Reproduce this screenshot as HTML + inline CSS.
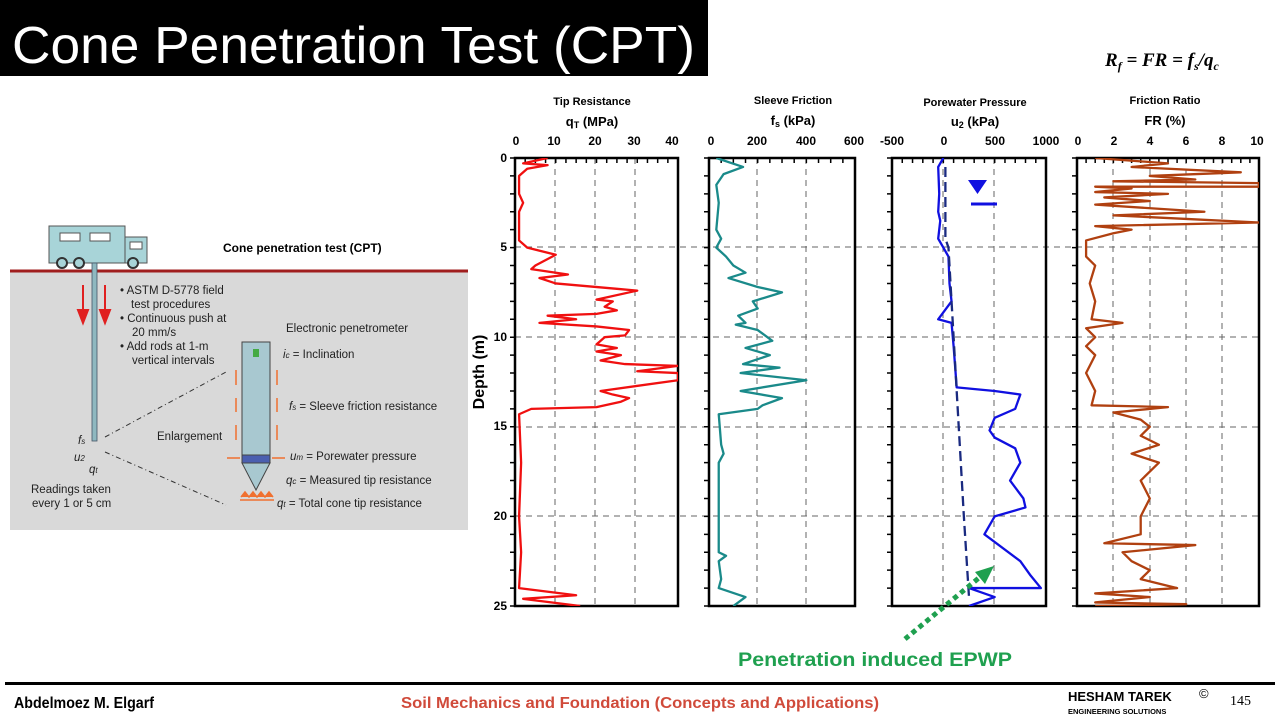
<!DOCTYPE html>
<html><head><meta charset="utf-8"><style>
body{margin:0;width:1280px;height:720px;background:#fff;overflow:hidden;font-family:"Liberation Sans",sans-serif}
svg{position:absolute;left:0;top:0}
.b{font-weight:bold}
.d{fill:none;stroke:#666;stroke-width:1;stroke-dasharray:6 5}
.ln{fill:none;stroke-width:2.3;vector-effect:non-scaling-stroke;stroke-linejoin:round}
.tk{stroke:#000;stroke-width:5}
</style></head><body>
<svg width="1280" height="720" viewBox="0 0 1280 720" font-family="Liberation Sans, sans-serif">
<rect x="0" y="0" width="708" height="76" fill="#000"/>
<text x="12" y="63" font-size="52" fill="#fff" textLength="683" lengthAdjust="spacingAndGlyphs">Cone Penetration Test (CPT)</text>
<text x="1105" y="66" font-family="Liberation Serif, serif" font-style="italic" font-weight="bold" font-size="19">R<tspan font-size="12" dy="4">f</tspan><tspan dy="-4"> = FR = f</tspan><tspan font-size="12" dy="4">s</tspan><tspan dy="-4">/q</tspan><tspan font-size="12" dy="4">c</tspan></text>

<!-- left diagram -->
<rect x="10" y="271" width="458" height="259" fill="#d9d9d9"/>
<line x1="10" y1="271" x2="468" y2="271" stroke="#a01e1e" stroke-width="3"/>
<rect x="49" y="226" width="76" height="37" fill="#a8d4d8" stroke="#555"/>
<rect x="125" y="237" width="22" height="26" fill="#a8d4d8" stroke="#555"/>
<rect x="60" y="233" width="20" height="8" fill="#fff" stroke="#555"/>
<rect x="90" y="233" width="20" height="8" fill="#fff" stroke="#555"/>
<rect x="130" y="242" width="12" height="7" fill="#fff" stroke="#555"/>
<circle cx="62" cy="263" r="5" fill="#a8d4d8" stroke="#333" stroke-width="2"/>
<circle cx="79" cy="263" r="5" fill="#a8d4d8" stroke="#333" stroke-width="2"/>
<circle cx="133" cy="263" r="5" fill="#a8d4d8" stroke="#333" stroke-width="2"/>
<rect x="92" y="263" width="5" height="178" fill="#8fb8c0" stroke="#456" stroke-width="0.8"/>
<path d="M83 285V320M78 310L83 323L88 310Z M105 285V320M100 310L105 323L110 310Z" stroke="#e02020" fill="#e02020" stroke-width="2"/>
<text x="223" y="252" font-size="12" class="b">Cone penetration test (CPT)</text>
<g font-size="11.5" fill="#222">
<text x="120" y="294">•  ASTM D-5778 field</text><text x="131" y="308">test procedures</text>
<text x="120" y="322">•  Continuous push at</text><text x="132" y="336">20 mm/s</text>
<text x="120" y="350">•  Add rods at 1-m</text><text x="132" y="364">vertical intervals</text>
<text x="286" y="332">Electronic penetrometer</text>
<text x="283" y="358"><tspan font-style="italic">i</tspan><tspan font-size="8" font-style="italic">c</tspan> = Inclination</text>
<text x="289" y="410"><tspan font-style="italic">f</tspan><tspan font-size="8" font-style="italic">s</tspan> = Sleeve friction resistance</text>
<text x="157" y="440">Enlargement</text>
<text x="290" y="460"><tspan font-style="italic">u</tspan><tspan font-size="8" font-style="italic">m</tspan> = Porewater pressure</text>
<text x="286" y="484"><tspan font-style="italic">q</tspan><tspan font-size="8" font-style="italic">c</tspan> = Measured tip resistance</text>
<text x="277" y="507"><tspan font-style="italic">q</tspan><tspan font-size="8" font-style="italic">t</tspan> = Total cone tip resistance</text>
<text x="78" y="444" font-style="italic">f<tspan font-size="8">s</tspan></text>
<text x="74" y="461" font-style="italic">u<tspan font-size="8">2</tspan></text>
<text x="89" y="473" font-style="italic">q<tspan font-size="8">t</tspan></text>
<text x="31" y="493">Readings taken</text><text x="32" y="507">every 1 or 5 cm</text>
</g>
<path d="M105 437L226 372M105 452L226 505" stroke="#333" stroke-dasharray="5 3 1 3" fill="none"/>
<rect x="242" y="342" width="28" height="113" fill="#a8c8d0" stroke="#444"/>
<rect x="242" y="455" width="28" height="8" fill="#4a5fb0" stroke="#444"/>
<path d="M242 463H270L256 490Z" fill="#a8c8d0" stroke="#444"/>
<rect x="253" y="349" width="6" height="8" fill="#4a4"/>
<g stroke="#f07030" stroke-width="1.5" fill="#f07030">
<path d="M236 385V370M277 385V370M236 412V398M277 412V398M236 440V425M277 440V425M240 458H227M272 458H285"/>
<path d="M241 497L245 492L249 497L253 492L257 497L261 492L265 497L269 492L273 497M240 500H274"/>
</g>

<!-- chart labels -->
<g font-weight="bold" text-anchor="middle">
<text x="592" y="105" font-size="11">Tip Resistance</text>
<text x="592" y="126" font-size="13">q<tspan font-size="9" dy="2">T</tspan><tspan dy="-2"> (MPa)</tspan></text>
<text x="793" y="104" font-size="11">Sleeve Friction</text>
<text x="793" y="125" font-size="13">f<tspan font-size="9" dy="2">s</tspan><tspan dy="-2"> (kPa)</tspan></text>
<text x="975" y="106" font-size="11">Porewater Pressure</text>
<text x="975" y="126" font-size="13">u<tspan font-size="9" dy="2">2</tspan><tspan dy="-2">  (kPa)</tspan></text>
<text x="1165" y="104" font-size="11">Friction Ratio</text>
<text x="1165" y="125" font-size="13">FR (%)</text>
<g font-size="12">
<text x="516" y="145">0</text><text x="554" y="145">10</text><text x="595" y="145">20</text><text x="634" y="145">30</text><text x="672" y="145">40</text>
<text x="711" y="145">0</text><text x="757" y="145">200</text><text x="806" y="145">400</text><text x="854" y="145">600</text>
<text x="892" y="145">-500</text><text x="944" y="145">0</text><text x="995" y="145">500</text><text x="1046" y="145">1000</text>
<text x="1078" y="145">0</text><text x="1114" y="145">2</text><text x="1150" y="145">4</text><text x="1186" y="145">6</text><text x="1222" y="145">8</text><text x="1257" y="145">10</text>
</g>
<g font-size="12" text-anchor="end">
<text x="507" y="162">0</text><text x="507" y="251">5</text><text x="507" y="341">10</text><text x="507" y="430">15</text><text x="507" y="520">20</text><text x="507" y="610">25</text>
</g>
<text transform="translate(484,372) rotate(-90)" font-size="16">Depth (m)</text>
</g>

<!-- grids -->
<g class="d">
<path d="M555 158V606M595 158V606M635 158V606M757 158V606M806 158V606M943 158V606M994 158V606M1113 158V606M1150 158V606M1186 158V606M1222 158V606"/>
<path d="M515 247H1259M515 337H1259M515 427H1259M515 516H1259"/>
</g>
<!-- ticks -->
<g class="tk">
<line x1="514.25" y1="160.5" x2="680" y2="160.5" stroke-dasharray="1.5 8.69"/>
<line x1="708.25" y1="160.5" x2="857" y2="160.5" stroke-dasharray="1.5 10.67"/>
<line x1="891.25" y1="160.5" x2="1048" y2="160.5" stroke-dasharray="1.5 8.77"/>
<line x1="1076.25" y1="160.5" x2="1261" y2="160.5" stroke-dasharray="1.5 7.6"/>
<line x1="512.5" y1="157.25" x2="512.5" y2="607" stroke-dasharray="1.5 16.42"/>
<line x1="706.5" y1="157.25" x2="706.5" y2="607" stroke-dasharray="1.5 16.42"/>
<line x1="889.5" y1="157.25" x2="889.5" y2="607" stroke-dasharray="1.5 16.42"/>
<line x1="1074.5" y1="157.25" x2="1074.5" y2="607" stroke-dasharray="1.5 16.42"/>
</g>
<g fill="none" stroke="#000" stroke-width="2.5">
<rect x="515" y="158" width="163" height="448"/>
<rect x="709" y="158" width="146" height="448"/>
<rect x="892" y="158" width="154" height="448"/>
<rect x="1077" y="158" width="182" height="448"/>
</g>

<svg x="515" y="158" width="163" height="448" viewBox="0 0 40 25" preserveAspectRatio="none">
<polyline class="ln" stroke="#f01010" points="8,0 2,0.3 8,0.4 3,0.6 1,1 1,2 2,2.5 1,3 1,4.6 3,5 10,5.4 5,6 4,6.2 13,6.5 6,6.7 10,7 25,7.3 30,7.4 20,7.9 24,8 22,8.3 25,8.5 20,8.7 8,8.8 15,9 6,9.2 20,9.4 28,9.6 27,9.9 22,10 20,10.4 25,10.6 20,10.8 26,11 21,11.3 27,11.5 40,11.6 30,11.9 40,12 40,12.4 21,13 24,13.2 28,13.4 26,13.6 20,13.9 4,14 1,14.3 1.5,17 1,20 1.5,22 1,24 15,24.4 2,24.6 16,25"/>
</svg>
<svg x="709" y="158" width="146" height="448" viewBox="0 0 600 25" preserveAspectRatio="none">
<polyline class="ln" stroke="#1a8a8a" points="30,0 140,0.5 60,0.9 30,1.5 40,2.5 30,4 50,4.5 30,5 70,5.5 100,6 150,6.4 80,6.7 200,7.2 300,7.5 180,8 200,8.4 120,8.8 150,9.2 110,9.3 200,9.6 260,10.2 150,10.6 250,11 140,11.5 290,11.7 130,12 400,12.4 130,13 300,13.4 220,13.8 200,14 40,14.3 50,16 60,16.5 40,17 40,22 70,22.2 40,22.5 50,23.5 40,24 150,24.5 100,25"/>
</svg>
<svg x="892" y="158" width="154" height="448" viewBox="-500 0 1500 25" preserveAspectRatio="none">
<polyline class="ln" stroke="#1010e0" points="0,0 -50,0.5 -40,2 -50,3 -30,3.5 -50,4.5 0,5 50,5.5 60,7 80,8 -50,9 80,9.2 100,10.5 130,12.8 500,13 750,13.2 700,14 500,14.5 450,15.2 500,15.6 700,16.2 750,17 650,18 780,19 800,19.5 500,20 400,21 750,22.5 850,23.3 950,24 250,24 500,24.5 250,25"/>
<polyline class="ln" stroke="#1a2a80" stroke-dasharray="10 5" points="20,0.5 20,4.5 50,5 100,10 150,15 200,20 250,24.5"/>
</svg>
<svg x="1077" y="158" width="182" height="448" viewBox="0 0 10 25" preserveAspectRatio="none">
<polyline class="ln" stroke="#b04010" points="1,0 5,0.3 3,0.5 9,0.8 4,1 6.5,1.2 2,1.3 10,1.4 10,1.6 1,1.6 3,1.7 1,1.9 5,2 1.5,2.2 4,2.4 1,2.6 7,3 2,3.2 6,3.4 10,3.6 1,3.8 3,4 2,4.2 0.5,4.6 0.5,5.5 1,6 0.7,7 1,8 0.8,9 2.5,9.2 0.5,9.5 1,10 0.5,10.5 1,11 0.5,12 1,13 0.8,13.8 5,13.9 2,14.2 3.5,14.6 4,15 3.5,15.5 4.5,16 3,16.5 4.5,17 3.5,18 4,19 3.5,20 3.5,21 1.5,21.5 6.5,21.6 2.5,22 3,22.5 4,23 3.5,23.5 5.5,24 1,24.3 4,24.5 1,24.8 6,24.9 1,25"/>
</svg>

<path d="M968 180H987L977.5 194Z" fill="#1010e0"/>
<line x1="971" y1="204" x2="997" y2="204" stroke="#1010e0" stroke-width="3"/>
<line x1="905" y1="639" x2="980" y2="577" stroke="#1fa04f" stroke-width="5" stroke-dasharray="5 4"/>
<path d="M975 572L994 566L985 584Z" fill="#1fa04f"/>
<text x="875" y="666" font-size="19" font-weight="bold" fill="#1fa04f" text-anchor="middle" textLength="274" lengthAdjust="spacingAndGlyphs">Penetration induced EPWP</text>

<!-- footer -->
<rect x="5" y="682" width="1270" height="3" fill="#000"/>
<text x="14" y="708" font-size="16" font-weight="bold" textLength="140" lengthAdjust="spacingAndGlyphs">Abdelmoez M. Elgarf</text>
<text x="640" y="708" font-size="16" font-weight="bold" fill="#d04a3a" text-anchor="middle" textLength="478" lengthAdjust="spacingAndGlyphs">Soil Mechanics and Foundation (Concepts and Applications)</text>
<text x="1068" y="701" font-size="13" font-weight="bold">HESHAM TAREK</text>
<text x="1199" y="698" font-size="13">©</text>
<text x="1068" y="714" font-size="7.5" font-weight="bold">ENGINEERING SOLUTIONS</text>
<text x="1230" y="705" font-size="14" font-family="Liberation Serif, serif">145</text>
</svg>
</body></html>
